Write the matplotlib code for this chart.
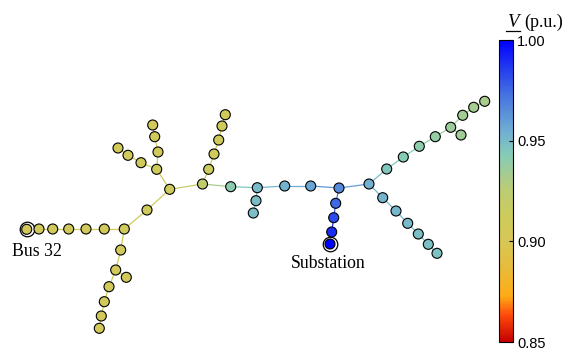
import numpy as np
import matplotlib
matplotlib.use("Agg")
import matplotlib.pyplot as plt
from matplotlib.collections import LineCollection
from matplotlib.colors import LinearSegmentedColormap, Normalize
from matplotlib.cm import ScalarMappable
from matplotlib.lines import Line2D

# Bus layout (drawing coordinates, y grows downwards) and voltages (p.u.)
node_x = [330.0, 331.7, 333.7, 335.7, 339.0, 310.7, 284.7, 257.3, 256.0, 253.3,
          230.7, 202.5, 208.7, 214.0, 218.7, 222.0, 225.3, 169.7, 147.0, 124.3,
          104.3, 86.0, 68.7, 52.7, 39.0, 26.7, 120.7, 115.7, 126.3, 109.0,
          104.3, 101.3, 99.3, 156.7, 158.0, 154.7, 152.7, 141.0, 128.0, 118.0,
          369.0, 386.7, 403.3, 419.3, 435.3, 450.7, 461.0, 462.7, 473.7, 484.7,
          382.7, 396.0, 407.7, 418.3, 428.3, 437.0]
node_y = [244.0, 232.0, 217.7, 203.3, 188.0, 186.0, 186.0, 187.7, 200.7, 213.0,
          186.7, 184.0, 169.3, 154.0, 140.0, 126.0, 114.7, 189.3, 210.0, 229.0,
          229.0, 229.0, 229.0, 229.0, 229.0, 229.3, 250.0, 270.0, 277.3, 286.7,
          301.7, 316.0, 328.3, 169.3, 152.0, 136.7, 125.0, 162.7, 155.3, 148.0,
          184.0, 169.0, 157.0, 146.3, 136.7, 127.3, 135.0, 115.3, 107.3, 101.3,
          197.7, 211.0, 223.3, 234.0, 244.3, 253.3]
node_v = [1.000, 0.990, 0.982, 0.975, 0.966, 0.957, 0.953, 0.950, 0.949, 0.948,
          0.941, 0.922, 0.914, 0.911, 0.910, 0.909, 0.909, 0.912, 0.910, 0.909,
          0.908, 0.908, 0.907, 0.907, 0.907, 0.906, 0.908, 0.908, 0.908, 0.907,
          0.907, 0.906, 0.906, 0.910, 0.909, 0.909, 0.908, 0.909, 0.909, 0.908,
          0.954, 0.946, 0.943, 0.940, 0.938, 0.936, 0.935, 0.934, 0.933, 0.932,
          0.952, 0.951, 0.950, 0.949, 0.948, 0.947]

edges = [(0, 1), (1, 2), (2, 3), (3, 4), (4, 5), (5, 6), (6, 7), (7, 8), (8, 9),
         (7, 10), (10, 11), (11, 12), (12, 13), (13, 14), (14, 15), (15, 16),
         (11, 17), (17, 18), (18, 19), (19, 20), (20, 21), (21, 22), (22, 23),
         (23, 24), (24, 25), (19, 26), (26, 27), (27, 28), (27, 29), (29, 30),
         (30, 31), (31, 32), (17, 33), (33, 34), (34, 35), (35, 36), (33, 37),
         (37, 38), (38, 39), (4, 40), (40, 41), (41, 42), (42, 43), (43, 44),
         (44, 45), (45, 46), (45, 47), (47, 48), (48, 49), (40, 50), (50, 51),
         (51, 52), (52, 53), (53, 54), (54, 55)]

labels = {0: "Substation", 25: "Bus 32"}
v_min, v_max = 0.85, 1.00
cbar_ticks = [0.85, 0.90, 0.95, 1.00]

# colour map
stops = [(0.00, (0.78, 0.00, 0.00)),
         (0.09, (1.00, 0.30, 0.05)),
         (0.15, (1.00, 0.67, 0.08)),
         (0.25, (0.90, 0.74, 0.24)),
         (0.34, (0.84, 0.78, 0.34)),
         (0.42, (0.80, 0.80, 0.36)),
         (0.50, (0.74, 0.80, 0.45)),
         (0.56, (0.64, 0.80, 0.58)),
         (0.62, (0.52, 0.80, 0.72)),
         (0.70, (0.44, 0.68, 0.83)),
         (0.82, (0.27, 0.45, 0.88)),
         (1.00, (0.00, 0.00, 1.00))]
cmap = LinearSegmentedColormap.from_list("volt", stops)
norm = Normalize(v_min, v_max)

serif = "Liberation Serif"
sans = "Liberation Sans"

W, H = 565, 354
fig = plt.figure(figsize=(W / 100, H / 100), dpi=100)
ax = fig.add_axes([0, 0, 1, 1])
ax.set_xlim(0, W)
ax.set_ylim(H, 0)
ax.axis("off")

x = np.array(node_x)
y = np.array(node_y)
v = np.array(node_v)

segs = [[(x[a], y[a]), (x[b], y[b])] for a, b in edges]
ecol = [cmap(norm((v[a] + v[b]) / 2)) for a, b in edges]
ax.add_collection(LineCollection(segs, colors=ecol, linewidths=0.9, zorder=1))

for i in labels:
    ax.scatter(x[i], y[i], s=110, facecolor="white", edgecolor="black",
               linewidth=0.9, zorder=2)
ax.scatter(x, y, c=v, cmap=cmap, norm=norm, s=52, edgecolor="black",
           linewidth=0.8, zorder=3)

ax.text(x[25] + 10, y[25] + 22, labels[25], ha="center", va="center",
        fontsize=12.8, family=serif)
ax.text(x[0] - 2, y[0] + 20, labels[0], ha="center", va="center",
        fontsize=12.8, family=serif)

# colour bar
cax = fig.add_axes([499 / W, 1 - 342 / H, 14 / W, 302 / H])
cb = fig.colorbar(ScalarMappable(norm=norm, cmap=cmap), cax=cax,
                  ticks=cbar_ticks, format="%.2f")
cb.outline.set_linewidth(0.8)
cax.tick_params(direction="in", length=3, width=0.8, pad=3, labelsize=10.5)
for t in cax.get_yticklabels():
    t.set_family(sans)

fig.text(507 / W, 1 - 27 / H, "V", fontsize=13.5, family=serif,
         style="italic", ha="left", va="baseline")
fig.text(524 / W, 1 - 27 / H, "(p.u.)", fontsize=13, family=serif,
         ha="left", va="baseline")
fig.add_artist(Line2D([506 / W, 520 / W], [1 - 31 / H, 1 - 31 / H],
                      color="black", linewidth=0.9))

fig.savefig("out.png", dpi=100)
